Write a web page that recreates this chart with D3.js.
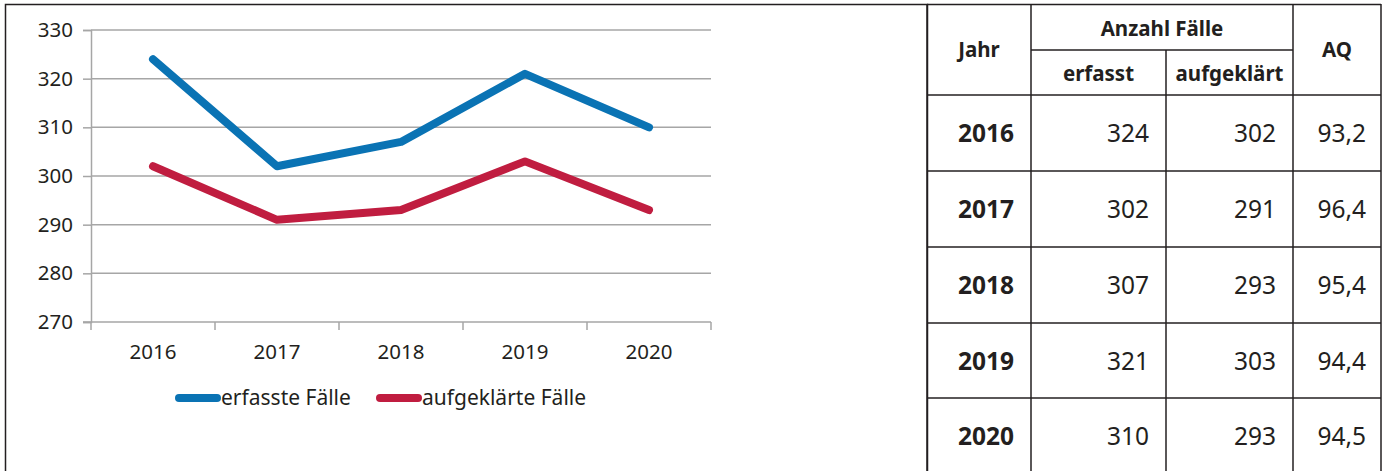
<!DOCTYPE html>
<html>
<head>
<meta charset="utf-8">
<script src="https://cdn.jsdelivr.net/npm/d3@7"></script>
<style>
  body { margin: 0; background: #fff; }
  svg text { font-family: "Noto Sans", "Open Sans", sans-serif; fill: #231f20; }
</style>
</head>
<body>
<svg id="chart" width="1388" height="471"></svg>
<script>
// data
const years = ["2016", "2017", "2018", "2019", "2020"];
const erfasst = [324, 302, 307, 321, 310];
const aufgeklaert = [302, 291, 293, 303, 293];
const aq = ["93,2", "96,4", "95,4", "94,4", "94,5"];
const yTicks = [270, 280, 290, 300, 310, 320, 330];
const seriesNames = ["erfasste Fälle", "aufgeklärte Fälle"];
const seriesColors = ["#0a73b4", "#c01d40"];

const svg = d3.select("#chart");
const ink = "#231f20";
const gridColor = "#a6a6a6";

//  outer frame of the chart part
svg.append("rect")
    .attr("x", 5.5).attr("y", 4.5)
    .attr("width", 922).attr("height", 480)
    .attr("fill", "none").attr("stroke", ink).attr("stroke-width", 1.5);

const plot = { left: 91, right: 711, top: 30, bottom: 322 };

const x = d3.scalePoint().domain(years).range([plot.left, plot.right]).padding(0.5);
const xBand = d3.scaleBand().domain(years).range([plot.left, plot.right]);
const y = d3.scaleLinear().domain([270, 330]).range([plot.bottom, plot.top]);

//  gridlines
svg.append("g")
    .selectAll("line")
    .data(yTicks.filter(d => d > 270))
    .join("line")
    .attr("x1", plot.left).attr("x2", plot.right)
    .attr("y1", d => y(d)).attr("y2", d => y(d))
    .attr("stroke", gridColor).attr("stroke-width", 1.5);

//  y axis
const yAxis = svg.append("g")
    .attr("transform", `translate(${plot.left},0)`)
    .call(d3.axisLeft(y).tickValues(yTicks).tickSize(8).tickPadding(10));
yAxis.select(".domain").attr("stroke", gridColor).attr("stroke-width", 1.5);
yAxis.selectAll(".tick line").attr("stroke", gridColor).attr("stroke-width", 1.5);
yAxis.selectAll("text")
    .attr("font-size", 20.5).attr("fill", ink)
    .style("font-family", "'Noto Sans', sans-serif");

//  x axis: ticks on the band edges, labels in the middle
const xAxis = svg.append("g")
    .attr("transform", `translate(0,${plot.bottom})`);
xAxis.append("line")
    .attr("x1", plot.left - 8).attr("x2", plot.right)
    .attr("stroke", gridColor).attr("stroke-width", 1.5);
const edges = years.map(d => xBand(d)).concat([xBand(years[years.length - 1]) + xBand.bandwidth()]);
xAxis.selectAll("line.tk")
    .data(edges)
    .join("line")
    .attr("class", "tk")
    .attr("x1", d => d).attr("x2", d => d)
    .attr("y1", 0).attr("y2", 8)
    .attr("stroke", gridColor).attr("stroke-width", 1.5);
xAxis.selectAll("text")
    .data(years)
    .join("text")
    .attr("x", d => x(d))
    .attr("y", 37)
    .attr("text-anchor", "middle")
    .attr("font-size", 20.5)
    .text(d => d);

//  lines
const line = d3.line()
    .x((d, i) => x(years[i]))
    .y(d => y(d));

[erfasst, aufgeklaert].forEach((s, i) => {
    svg.append("path")
        .attr("d", line(s))
        .attr("fill", "none")
        .attr("stroke", seriesColors[i])
        .attr("stroke-width", 8)
        .attr("stroke-linecap", "round")
        .attr("stroke-linejoin", "round");
});

//  legend
const legendX = [179, 380];
const legend = svg.append("g");
seriesNames.forEach((name, i) => {
    legend.append("line")
        .attr("x1", legendX[i]).attr("x2", legendX[i] + 38)
        .attr("y1", 398).attr("y2", 398)
        .attr("stroke", seriesColors[i])
        .attr("stroke-width", 8)
        .attr("stroke-linecap", "round");
    legend.append("text")
        .attr("x", legendX[i] + 42)
        .attr("y", 405)
        .attr("font-size", 21)
        .text(name);
});

//  the table on the right
const colX = [927, 1031, 1166, 1293, 1381];
const rowY = [95, 171, 247, 323, 398, 474];
const tbl = svg.append("g");
const hl = (x1, x2, yy) => tbl.append("line").attr("x1", x1).attr("x2", x2).attr("y1", yy).attr("y2", yy)
    .attr("stroke", ink).attr("stroke-width", 1.5);
const vl = (xx, y1, y2) => tbl.append("line").attr("x1", xx).attr("x2", xx).attr("y1", y1).attr("y2", y2)
    .attr("stroke", ink).attr("stroke-width", 1.5);

hl(colX[0], colX[4], 4.5);
hl(colX[1], colX[3], 50);
rowY.forEach(r => hl(colX[0], colX[4], r));
vl(colX[0], 4, 471);
vl(colX[1], 4, 471);
vl(colX[2], 50, 471);
vl(colX[3], 4, 471);
vl(colX[4], 4, 471);

const head = (tx, ty, t) => tbl.append("text")
    .attr("x", tx).attr("y", ty)
    .attr("text-anchor", "middle")
    .attr("font-size", 20.5).attr("font-weight", "bold")
    .text(t);
head((colX[0] + colX[1]) / 2, 57, "Jahr");
head((colX[1] + colX[3]) / 2, 36, "Anzahl Fälle");
head((colX[1] + colX[2]) / 2, 81, "erfasst");
head((colX[2] + colX[3]) / 2, 81, "aufgeklärt");
head((colX[3] + colX[4]) / 2, 57, "AQ");

years.forEach((yr, i) => {
    const cy = (rowY[i] + rowY[i + 1]) / 2 + 9;
    tbl.append("text")
        .attr("x", (colX[0] + colX[1]) / 2 + 7).attr("y", cy)
        .attr("text-anchor", "middle")
        .attr("font-size", 24.5).attr("font-weight", "bold")
        .text(yr);
    [erfasst[i], aufgeklaert[i], aq[i]].forEach((v, j) => {
        tbl.append("text")
            .attr("x", colX[j + 2] - (j === 2 ? 15 : 17)).attr("y", cy)
            .attr("text-anchor", "end")
            .attr("font-size", 24.5)
            .text(v);
    });
});
</script>
</body>
</html>
